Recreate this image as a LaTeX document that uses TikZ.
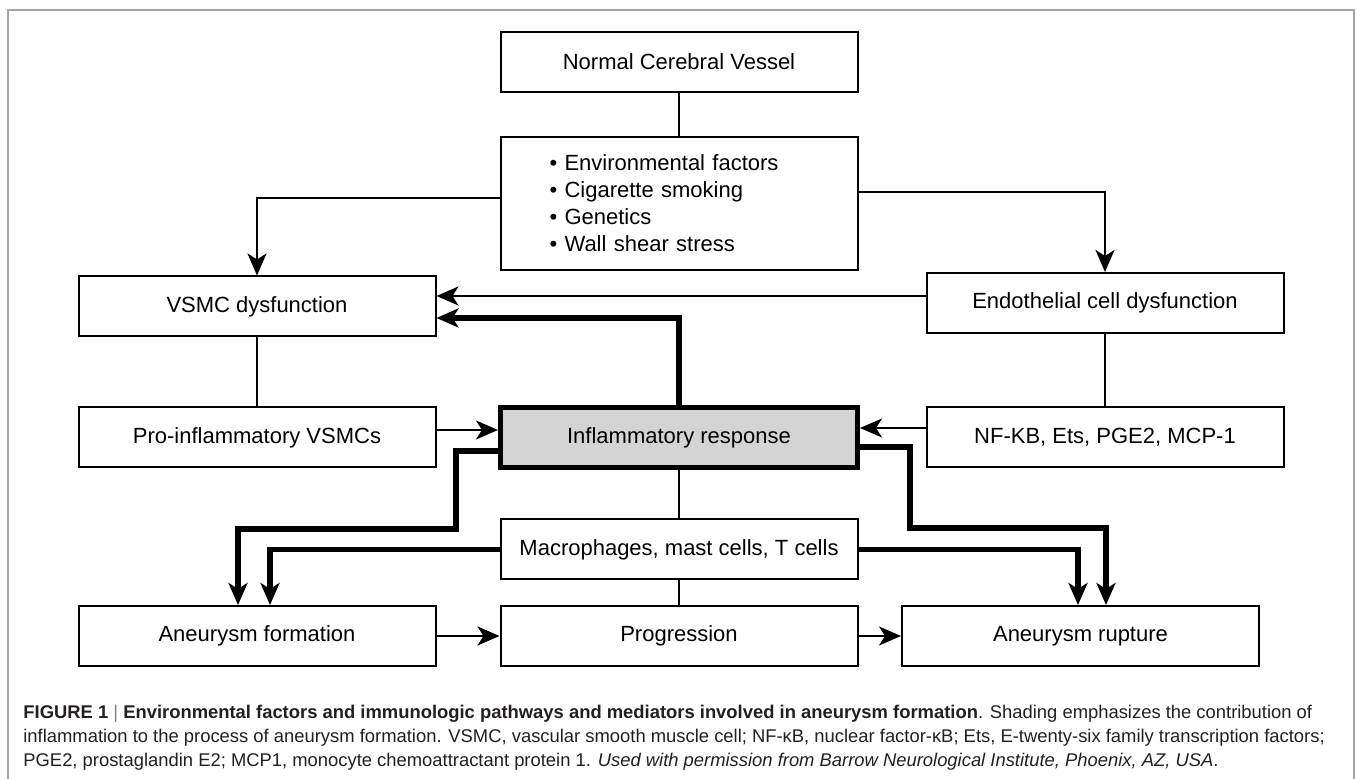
\documentclass[tikz,border=0pt]{standalone}
\usepackage{fontspec}
\setmainfont{Liberation Sans}
\usepackage{tikz}
\usetikzlibrary{arrows.meta}
\usetikzlibrary{positioning}
\definecolor{inflgray}{RGB}{212,212,212}
\definecolor{framegray}{RGB}{165,165,165}
\definecolor{captext}{RGB}{35,31,32}
\tikzset{
    stage/.style={
           rectangle,
           draw=black, line width=1pt,
           minimum width=178.5pt,
           minimum height=30pt,
           inner sep=2pt,
           font=\fontsize{11pt}{13.5pt}\selectfont,
           text centered,
           },
    hot/.style={
           stage,
           line width=2.5pt,
           fill=inflgray,
           },
    link/.style={line width=1pt},
    flow/.style={line width=2.75pt},
}

\begin{document}
\begin{tikzpicture}[x=0.5pt,y=-0.5pt,>={Stealth[length=11pt,width=9.5pt,inset=3pt]}]
  \useasboundingbox (0,0) rectangle (1357,779);
  % thin grey frame round the figure
  \draw[framegray,line width=0.6pt] (8,779) -- (8,10) -- (1354,10) -- (1354,779);

  \node[hot] (infl) at (679,437.5) {Inflammatory response};
  \node[stage,
 above of=infl,
 node distance=117pt,
 minimum height=66.5pt,
 text width=129.5pt,
 inner xsep=24.5pt,
 align=left] (factors)
 {%
  \textbullet\ Environmental factors\\
  \textbullet\ Cigarette smoking\\
  \textbullet\ Genetics\\
  \textbullet\ Wall shear stress
 };
  \node[stage,
 above of=factors,
 node distance=70.75pt] (ncv) {Normal Cerebral Vessel};
  \node[stage,
 left of=infl,
 node distance=211pt] (pro) {Pro-inflammatory VSMCs};
  \node[stage,
 above of=pro,
 node distance=65.5pt] (vsmc) {VSMC dysfunction};
  \node[stage,
 right of=infl,
 node distance=213pt] (nfkb) {NF-KB, Ets, PGE2, MCP-1};
  \node[stage,
 above of=nfkb,
 node distance=67.25pt] (endo) {Endothelial cell dysfunction};
  \node[stage,
 below of=infl,
 node distance=56pt] (macro) {Macrophages, mast cells, T cells};
  \node[stage,
 below of=macro,
 node distance=43.25pt] (prog) {Progression};
  \node[stage,
 left of=prog,
 node distance=211pt] (af) {Aneurysm formation};
  \node[stage,
 right of=prog,
 node distance=200.75pt] (ar) {Aneurysm rupture};

 % plain links between boxes
\path[link]
  (ncv) edge (factors)
  (vsmc) edge (pro)
  (endo) edge (nfkb)
  (infl) edge (macro)
  (macro) edge (prog);

 % thin arrows
\draw[link,->] ([yshift=2.75pt]factors.west) -| (vsmc.north);
\draw[link,->] ([yshift=5.75pt]factors.east) -| (endo.north);
\draw[link,->] ([yshift=3.5pt]endo.west) -- ([yshift=5.25pt]vsmc.east);
\draw[link,->] ([yshift=3.75pt]pro.east) -- ([yshift=3.75pt]infl.west);
\draw[link,->] ([yshift=4.75pt]nfkb.west) -- ([yshift=4.75pt]infl.east);
\draw[link,->] (af) -- (prog);
\draw[link,->] (prog) -- (ar);

 % heavy arrows out of the inflammatory response
\draw[flow,->] (infl.north) |- ([yshift=-5.75pt]vsmc.east);
\draw[flow,->] ([yshift=-6.75pt]infl.west) -- ++(-42,0) -- ++(0,78)
  -| ([xshift=-9.5pt]af.north);
\draw[flow,->] (macro.west) -| ([xshift=6.5pt]af.north);
\draw[flow,->] ([yshift=-4.75pt]infl.east) -- ++(50,0) -- ++(0,81)
  -| ([xshift=12.75pt]ar.north);
\draw[flow,->] (macro.east) -| ([xshift=-1.25pt]ar.north);

 % caption under the figure
\node[anchor=north west, inner sep=0pt, align=left, text=captext,
 font=\fontsize{9.2pt}{12pt}\selectfont] (caption) at (23,705)
 {%
  \textbf{FIGURE 1} {\color{gray}|} \textbf{Environmental factors and immunologic pathways and mediators involved in aneurysm formation}. Shading emphasizes the contribution of\\
  inflammation to the process of aneurysm formation. VSMC, vascular smooth muscle cell; NF-κB, nuclear factor-κB; Ets, E-twenty-six family transcription factors;\\
  PGE2, prostaglandin E2; MCP1, monocyte chemoattractant protein 1. \textit{Used with permission from Barrow Neurological Institute, Phoenix, AZ, USA}.
 };
\end{tikzpicture}
\end{document}
